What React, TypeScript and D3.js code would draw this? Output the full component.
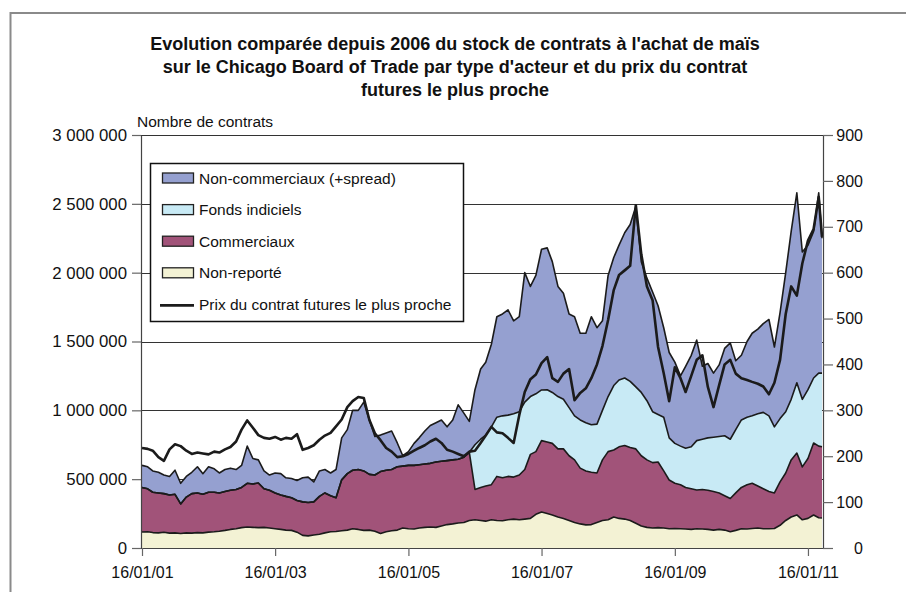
import { useEffect, useRef } from 'react';
import * as d3 from 'd3';

// one value per month from 16/01/2001, last point early April 2011
// stocks in thousands of contracts, price in cents per bushel
const START = new Date(2001, 0, 16);
const END = new Date(2011, 3, 3);

const nonReporte = [
  116, 118, 112, 110, 114, 108, 110, 105, 110, 108,
  112, 110, 115, 118, 122, 128, 135, 140, 148, 152,
  150, 148, 150, 145, 140, 135, 130, 128, 115, 92,
  88, 95, 100, 110, 118, 120, 125, 130, 140, 135,
  128, 130, 122, 105, 118, 125, 130, 145, 140, 138,
  145, 150, 152, 150, 160, 170, 175, 182, 185, 200,
  205, 200, 195, 205, 200, 198, 205, 210, 205, 210,
  215, 245, 262, 250, 240, 225, 215, 200, 185, 175,
  168, 170, 185, 200, 205, 225, 215, 210, 200, 180,
  160, 150, 145, 148, 145, 140, 142, 140, 138, 135,
  140, 138, 135, 130, 135, 130, 118, 128, 140, 138,
  142, 145, 140, 140, 142, 165, 200, 225, 240, 205,
  215, 240, 220, 218
];

const commerciaux = [
  324, 312, 293, 290, 281, 277, 280, 215, 260, 287,
  288, 280, 290, 287, 278, 282, 285, 285, 292, 318,
  315, 324, 280, 275, 260, 250, 245, 237, 230, 243,
  242, 240, 275, 290, 262, 245, 370, 410, 425, 435,
  432, 405, 408, 450, 447, 445, 460, 450, 460, 462,
  460, 460, 463, 475, 470, 465, 465, 463, 475, 495,
  220, 240, 255, 255, 320, 312, 315, 305, 325, 360,
  465, 455, 518, 520, 520, 495, 505, 470, 455, 405,
  392, 380, 360, 440, 495, 487, 520, 535, 530, 540,
  510, 490, 475, 477, 415, 354, 328, 320, 302, 295,
  281, 287, 285, 280, 265, 250, 242, 272, 300, 322,
  328, 305, 290, 270, 258, 315, 345, 415, 450, 384,
  435, 523, 520, 517
];

const fondsIndiciels = [
  0, 0, 0, 0, 0, 0, 0, 0, 0, 0,
  0, 0, 0, 0, 0, 0, 0, 0, 0, 0,
  0, 0, 0, 0, 0, 0, 0, 0, 0, 0,
  0, 0, 0, 0, 0, 0, 0, 0, 0, 0,
  0, 0, 0, 0, 0, 0, 0, 0, 0, 0,
  0, 0, 0, 0, 0, 0, 0, 0, 0, 0,
  325, 350, 370, 420, 430, 450, 445, 460, 460, 490,
  420, 420, 368, 380, 370, 380, 360, 350, 320, 350,
  350, 345, 355, 360, 400, 468, 485, 490, 480, 450,
  460, 430, 370, 345, 390, 306, 290, 280, 285, 305,
  359, 365, 380, 395, 410, 435, 430, 460, 490, 490,
  490, 525, 555, 550, 480, 460, 445, 440, 510, 491,
  500, 472, 530, 535
];

const nonCommerciaux = [
  160, 160, 155, 150, 135, 135, 175, 150, 150, 155,
  190, 150, 185, 170, 145, 160, 160, 145, 160, 270,
  185, 168, 130, 110, 145, 155, 135, 140, 145, 175,
  185, 145, 185, 170, 165, 205, 305, 320, 435, 430,
  500, 395, 280, 265, 270, 280, 173, 75, 100, 160,
  195, 240, 275, 285, 300, 245, 290, 395, 320, 225,
  400, 510, 530, 600, 730, 740, 765, 675, 690, 940,
  800, 860, 1022, 1030, 950, 800, 770, 680, 720, 630,
  650, 785, 700, 650, 880, 930, 980, 1055, 1140, 1310,
  950, 890, 870, 790, 650, 620, 590, 510, 595, 665,
  730, 530, 540, 465, 520, 635, 700, 500, 470, 550,
  600, 615, 645, 700, 580, 770, 1010, 1220, 1380, 1070,
  1050, 1065, 1310, 980
];

const prix = [
  218, 216, 212, 198, 190, 215, 226, 222, 212, 205,
  208, 206, 204, 210, 208, 215, 220, 232, 258, 278,
  262, 246, 240, 238, 242, 236, 240, 238, 248, 214,
  218, 224, 236, 245, 251, 265, 280, 307, 320, 329,
  327, 279, 250, 235, 218, 210, 198, 200, 205, 212,
  218, 224, 232, 238, 229, 214, 210, 205, 200, 210,
  212, 229, 245, 264, 252, 250, 240, 229, 290, 340,
  368, 378, 403, 416, 370, 362, 380, 390, 322, 338,
  348, 370, 400, 440, 497, 562, 595, 605, 615, 747,
  640, 570, 540, 438, 381, 320, 394, 370, 340, 375,
  410, 420, 351, 307, 355, 400, 410, 380, 370, 366,
  362, 358, 352, 335, 360, 410, 510, 570, 550, 620,
  670, 695, 765, 678
];

const xTicks = ['2001-01-16', '2003-01-16', '2005-01-16', '2007-01-16', '2009-01-16', '2011-01-16'];
const leftTicks = [0, 500, 1000, 1500, 2000, 2500, 3000];
const rightTicks = [0, 100, 200, 300, 400, 500, 600, 700, 800, 900];

const titleLines = [
  "Evolution comparée depuis 2006 du stock de contrats à l'achat de maïs",
  "sur le Chicago Board of Trade par type d'acteur et du prix du contrat",
  "futures le plus proche"
];

const keys = ['nr', 'com', 'fi', 'nc'];
const colors = { nr: '#f3f2d4', com: '#a15379', fi: '#c8eaf5', nc: '#95a0d0' };
const legendItems = [
  { label: 'Non-commerciaux (+spread)', key: 'nc' },
  { label: 'Fonds indiciels', key: 'fi' },
  { label: 'Commerciaux', key: 'com' },
  { label: 'Non-reporté', key: 'nr' },
  { label: 'Prix du contrat futures le plus proche', key: 'line' }
];

const FONT = '"Liberation Sans", Arial, Helvetica, sans-serif';

export default function App() {
  const ref = useRef(null);

  useEffect(() => {
    const svg = d3.select(ref.current);
    svg.selectAll('*').remove();

    const left = 141, right = 823, top = 135, bottom = 548;

    const dates = nonReporte.map((_, i) =>
      i < nonReporte.length - 1 ? d3.timeMonth.offset(START, i) : END);
    const rows = dates.map((date, i) => ({
      date, nr: nonReporte[i], com: commerciaux[i], fi: fondsIndiciels[i], nc: nonCommerciaux[i]
    }));

    const x = d3.scaleTime().domain([START, END]).range([142, 822]);
    const yL = d3.scaleLinear().domain([0, 3000]).range([bottom, top]);
    const yR = d3.scaleLinear().domain([0, 900]).range([bottom, top]);

    const fr = d3.formatLocale({ decimal: ',', thousands: ' ', grouping: [3], currency: ['', ' €'] });
    const fmt = fr.format(',d');

    // outer frame of the page
    svg.append('path')
      .attr('d', 'M10.5,600 V13 H910')
      .attr('fill', 'none')
      .attr('stroke', '#8a8a8a')
      .attr('stroke-width', 2);

    // title
    svg.append('g')
      .selectAll('text')
      .data(titleLines)
      .join('text')
      .attr('x', 455)
      .attr('y', (d, i) => 50 + i * 23)
      .attr('text-anchor', 'middle')
      .attr('font-family', FONT)
      .attr('font-weight', 'bold')
      .attr('font-size', 18)
      .attr('fill', '#111')
      .text(d => d);

    svg.append('text')
      .attr('x', 137)
      .attr('y', 127)
      .attr('font-family', FONT)
      .attr('font-size', 15.5)
      .attr('fill', '#111')
      .text('Nombre de contrats');

    // gridlines
    svg.append('g')
      .selectAll('line')
      .data(leftTicks.filter(d => d > 0))
      .join('line')
      .attr('x1', left)
      .attr('x2', right)
      .attr('y1', d => Math.round(yL(d)) + 0.5)
      .attr('y2', d => Math.round(yL(d)) + 0.5)
      .attr('stroke', '#333')
      .attr('stroke-width', 1);

    const stacked = d3.stack().keys(keys)(rows);

    const area = d3.area()
      .x(d => x(d.data.date))
      .y0(d => yL(d[0]))
      .y1(d => yL(d[1]));
    const topLine = d3.line()
      .x(d => x(d.data.date))
      .y(d => yL(d[1]));

    const g = svg.append('g');
    g.selectAll('path.area')
      .data(stacked)
      .join('path')
      .attr('class', 'area')
      .attr('fill', d => colors[d.key])
      .attr('d', area);

    g.selectAll('path.top')
      .data(stacked)
      .join('path')
      .attr('class', 'top')
      .attr('fill', 'none')
      .attr('stroke', '#1b1b1b')
      .attr('stroke-width', 1.6)
      .attr('stroke-linejoin', 'round')
      .attr('d', topLine);

    const priceLine = d3.line()
      .x((d, i) => x(dates[i]))
      .y(d => yR(d));

    svg.append('path')
      .datum(prix)
      .attr('fill', 'none')
      .attr('stroke', '#1b1b1b')
      .attr('stroke-width', 2.6)
      .attr('stroke-linejoin', 'round')
      .attr('d', priceLine);

    // axes
    const styleAxis = (sel, size) => {
      sel.select('.domain').attr('stroke', '#444').attr('stroke-width', 1.2);
      sel.selectAll('.tick line').attr('stroke', '#666').attr('stroke-width', 1.2);
      sel.selectAll('.tick text')
        .attr('font-family', FONT)
        .attr('font-size', size)
        .attr('fill', '#111');
    };

    svg.append('g')
      .attr('transform', `translate(${left},0)`)
      .call(d3.axisLeft(yL).tickValues(leftTicks).tickSize(9).tickSizeOuter(0).tickPadding(5)
        .tickFormat(d => fmt(d * 1000)))
      .call(styleAxis, 16.8);

    const rAxis = svg.append('g')
      .attr('transform', `translate(${right},0)`)
      .call(d3.axisRight(yR).tickValues(rightTicks).tickSize(10).tickSizeOuter(0).tickPadding(3))
      .call(styleAxis, 16);
    rAxis.selectAll('.tick text').attr('x', 40).attr('text-anchor', 'end');

    svg.append('g')
      .attr('transform', `translate(0,${bottom})`)
      .call(d3.axisBottom(x).tickValues(xTicks.map(d => d3.timeParse('%Y-%m-%d')(d)))
        .tickSize(8).tickSizeOuter(0).tickPadding(11)
        .tickFormat(d3.timeFormat('%d/%m/%y')))
      .call(styleAxis, 16)
      .call(sel => sel.select('.domain').attr('d', `M${left},0.5H${right}`));

    // legend
    const lg = svg.append('g');
    lg.append('rect')
      .attr('x', 150.5).attr('y', 163.5)
      .attr('width', 313).attr('height', 158)
      .attr('fill', '#fff')
      .attr('stroke', '#111')
      .attr('stroke-width', 1.5);

    const item = lg.selectAll('g.item')
      .data(legendItems)
      .join('g')
      .attr('class', 'item')
      .attr('transform', (d, i) => `translate(0,${178 + i * 31.6})`);

    item.filter(d => d.key !== 'line')
      .append('rect')
      .attr('x', 162.5).attr('y', -5)
      .attr('width', 31).attr('height', 10)
      .attr('fill', d => colors[d.key])
      .attr('stroke', '#222')
      .attr('stroke-width', 1.3);

    item.filter(d => d.key === 'line')
      .append('line')
      .attr('x1', 160).attr('x2', 194)
      .attr('y1', 1).attr('y2', 1)
      .attr('stroke', '#1b1b1b')
      .attr('stroke-width', 2.8);

    item.append('text')
      .attr('x', 199)
      .attr('y', 5.5)
      .attr('font-family', FONT)
      .attr('font-size', 15.5)
      .attr('fill', '#111')
      .text(d => d.label);
  }, []);

  return (
    <div style={{ position: 'absolute', left: 0, top: 0 }}>
      <svg ref={ref} width={906} height={592} style={{ display: 'block', background: '#fff' }} />
    </div>
  );
}
